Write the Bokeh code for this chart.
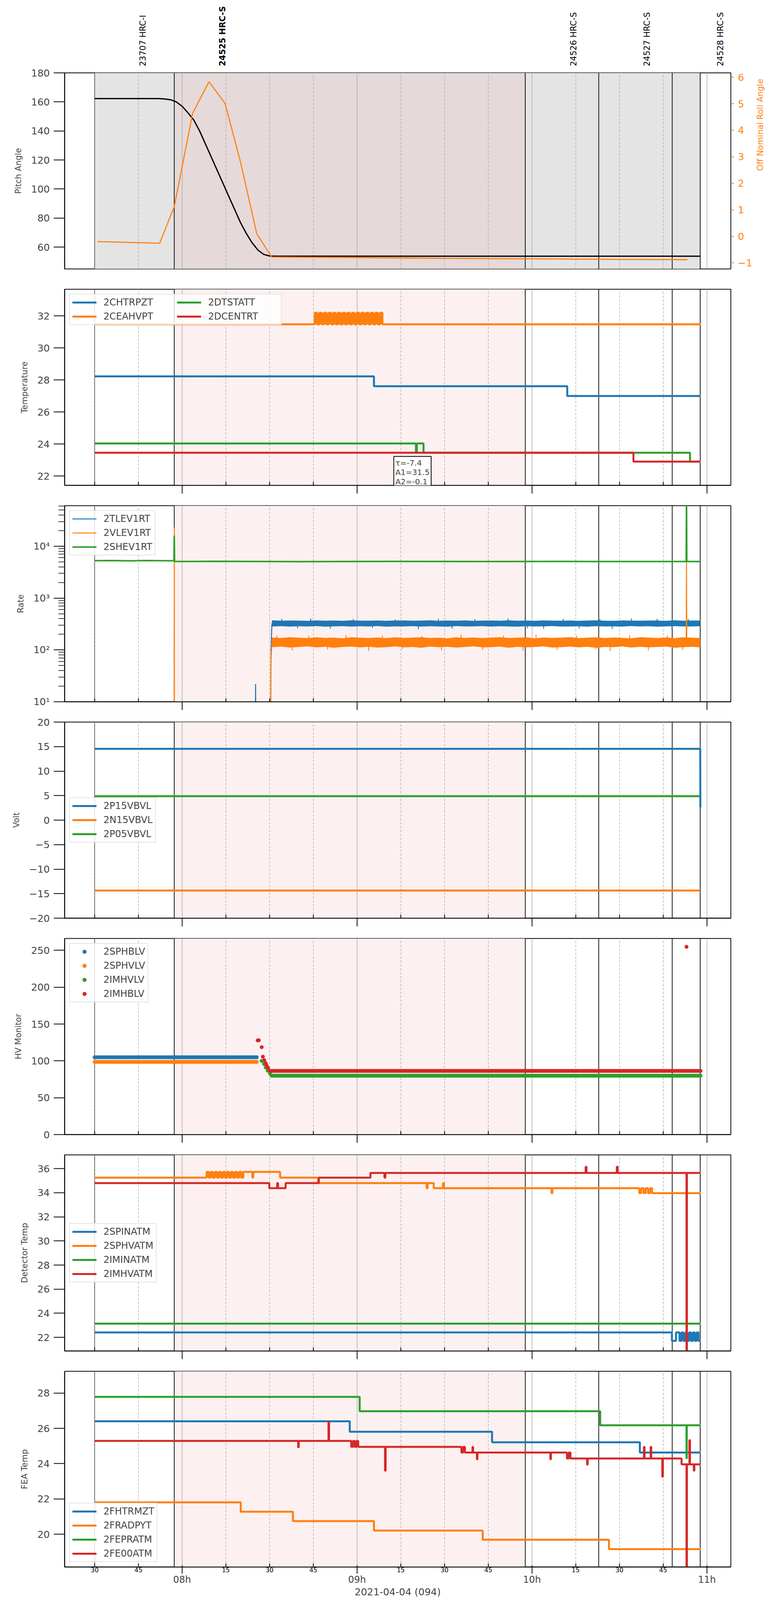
import numpy as np
import pandas as pd
from bokeh.plotting import figure
from bokeh.layouts import column
from bokeh.models import (Range1d, LinearAxis, FixedTicker, CustomJSTickFormatter,
                          BoxAnnotation, Span, Label, Legend, LegendItem)
from bokeh.embed import file_html
from bokeh.resources import INLINE
from bokeh.core.properties import value

# ---------------- data (time = minutes after 2021-04-04 07:00 UTC) ----------------
DAY0 = "2021-04-04 07:00:00"
X_LIMITS = [19.7, 248.2]
HOUR_TICKS = [60, 120, 180, 240]
QUARTER_TICKS = [30, 45, 75, 90, 105, 135, 150, 165, 195, 210, 225]
QUARTER_LABELS = ["30", "45", "15", "30", "45", "15", "30", "45", "15", "30", "45"]
X_TITLE = "2021-04-04 (094)"

obs_ids = ["23707 HRC-I", "24525 HRC-S", "24526 HRC-S", "24527 HRC-S", "24528 HRC-S"]
obs_start = [30.0, 57.3, 177.7, 202.9, 228.1]
obs_stop = [57.3, 177.7, 202.9, 228.1, 237.7]
current_obs = "24525 HRC-S"

# panel 1
pitch_t = [30, 52, 54, 56, 58, 60, 62, 64, 66, 68, 70, 72, 74, 76, 78, 80, 82, 84, 86, 88, 90, 92, 237.7]
pitch_v = [162.3, 162.3, 162.0, 161.5, 160.0, 157.0, 152.5, 147.5, 140.0, 131.0, 122.0, 113.0, 104.0,
           95.0, 86.0, 77.0, 69.5, 63.0, 58.0, 55.0, 53.9, 53.8, 53.8]
roll_t = [31, 42, 52.3, 57.3, 63.6, 69.2, 74.7, 80.1, 85.6, 90.7, 120, 150, 180, 210, 233.3]
roll_v = [-0.20, -0.23, -0.26, 1.12, 4.64, 5.83, 5.02, 2.77, 0.10, -0.78, -0.80, -0.83, -0.85, -0.87, -0.88]

# panel 2 (step data: value holds from each time to the next)
chtrpzt_t = [30, 125.8, 192.1, 237.8]
chtrpzt_v = [28.23, 27.61, 27.0, 27.0]
ceahvpt_t = [30, 105.5, 106.3, 107.1, 107.9, 108.7, 109.5, 110.3, 111.1, 111.9, 112.7, 113.5, 114.3,
             115.1, 115.9, 116.7, 117.5, 118.3, 119.1, 119.9, 120.7, 121.5, 122.3, 123.1, 123.9,
             124.7, 125.5, 126.3, 127.1, 127.9, 128.7, 237.8]
ceahvpt_v = [31.48, 32.2, 31.48, 32.2, 31.48, 32.2, 31.48, 32.2, 31.48, 32.2, 31.48, 32.2, 31.48,
             32.2, 31.48, 32.2, 31.48, 32.2, 31.48, 32.2, 31.48, 32.2, 31.48, 32.2, 31.48,
             32.2, 31.48, 32.2, 31.48, 32.2, 31.48, 31.48]
dtstatt_t = [30, 140.2, 140.5, 142.8, 234.2, 237.8]
dtstatt_v = [24.04, 23.46, 24.04, 23.46, 22.9, 22.9]
dcentrt_t = [30, 214.8, 237.8]
dcentrt_v = [23.46, 22.9, 22.9]
fit_text = "\u03c4=-7.4\nA1=31.5\nA2=-0.1"
fit_time = 132.6

# panel 3 (rates; 0 = no counts)
tlev_t = [30, 85.1, 85.2, 85.3, 90.3, 90.5, 90.8, 237.7]
tlev_v = [0, 0, 22, 0, 0, 100, 322, 322]
vlev_t = [57.25, 57.3, 57.35, 90.3, 90.45, 90.8, 232.9, 233.0, 233.1, 237.7]
vlev_v = [0, 23000, 0, 0, 60, 140, 140, 4900, 140, 140]
shev_t = [30, 36, 42, 48, 54, 57.2, 57.3, 57.4, 70, 100, 130, 160, 190, 220, 232.9, 233.0, 233.1, 237.7]
shev_v = [5260, 5310, 5240, 5290, 5250, 5250, 16000, 5080, 5110, 5060, 5100, 5070, 5090, 5080, 5080,
          100000, 5080, 5080]
band_t = [90.8, 94, 97, 100, 103, 106, 109, 112, 115, 118, 121, 124, 127, 130, 133, 136, 139, 142,
          145, 148, 151, 154, 157, 160, 163, 166, 169, 172, 175, 178, 181, 184, 187, 190, 193, 196,
          199, 202, 205, 208, 211, 214, 217, 220, 223, 226, 229, 232, 235, 237.7]
tlev_hi = [372, 366, 370, 368, 364, 371, 367, 369, 365, 372, 368, 366, 370, 364, 369, 371, 366, 368,
           372, 365, 369, 367, 371, 364, 368, 370, 366, 372, 367, 369, 365, 371, 368, 366, 370, 364,
           369, 372, 367, 365, 371, 368, 366, 370, 369, 364, 372, 367, 369, 368]
tlev_lo = [284, 287, 282, 286, 283, 288, 281, 285, 287, 282, 286, 284, 288, 281, 285, 283, 287, 282,
           286, 284, 281, 288, 283, 285, 287, 282, 286, 284, 281, 287, 283, 285, 288, 282, 284, 286,
           281, 287, 283, 285, 282, 288, 284, 286, 281, 285, 287, 283, 284, 286]
vlev_hi = [174, 170, 176, 172, 169, 175, 171, 173, 168, 176, 172, 170, 174, 169, 175, 171, 173, 176,
           170, 172, 168, 175, 171, 174, 169, 173, 176, 170, 172, 175, 168, 174, 171, 173, 176, 169,
           172, 175, 170, 174, 171, 168, 176, 173, 170, 174, 169, 175, 172, 171]
vlev_lo = [113, 116, 111, 114, 117, 112, 115, 110, 114, 116, 112, 115, 111, 113, 117, 112, 114, 110,
           116, 113, 115, 111, 114, 117, 112, 113, 116, 110, 115, 112, 114, 117, 111, 113, 116, 112,
           115, 110, 114, 113, 117, 111, 115, 112, 114, 116, 110, 113, 115, 112]
TLEV_LEVEL = 322
VLEV_LEVEL = 140
tlev_spike_t = [94.2, 99.6, 104.1, 110.8, 118.7, 125.3, 133.1, 141.0, 147.9, 152.6, 160.4, 171.8,
                178.5, 184.0, 190.7, 196.2, 203.3, 207.5, 214.1, 222.9, 228.0, 233.6]
tlev_spike_v = [398, 262, 405, 258, 396, 266, 388, 252, 401, 260, 394, 405, 264, 257, 399, 262, 392,
                256, 403, 398, 252, 395]
vlev_spike_t = [92.5, 97.8, 103.4, 109.9, 116.2, 124.0, 128.7, 135.5, 142.3, 149.0, 155.7, 163.1,
                170.2, 176.9, 181.4, 188.6, 195.3, 201.8, 206.8, 213.5, 219.9, 226.4, 231.7]
vlev_spike_v = [190, 98, 186, 102, 192, 96, 188, 104, 185, 99, 194, 101, 189, 97, 196, 100, 187, 103,
                95, 191, 98, 188, 100]

# panel 4
p15_t = [30, 237.7, 237.75]
p15_v = [14.55, 14.55, 2.6]
n15_t = [30, 237.7]
n15_v = [-14.36, -14.36]
p05_t = [30, 237.7]
p05_v = [4.88, 4.88]

# panel 5 (scatter): flat segments (start, stop, level) + individual samples
sphblv_seg = [(30, 85.6, 104.9)]
sphvlv_seg = [(30, 85.6, 98.6)]
imhvlv_seg = [(90.67, 237.8, 79.9)]
imhvlv_pt_t = [87.27, 88.1, 88.66, 89.33, 90.13]
imhvlv_pt_v = [100.0, 95.8, 91.1, 86.8, 82.7]
imhblv_seg = [(90.0, 237.8, 86.4)]
imhblv_pt_t = [85.9, 86.3, 87.3, 87.7, 88.2, 88.7, 89.1, 89.5, 233.0]
imhblv_pt_v = [127.8, 128.0, 118.6, 105.7, 100.9, 96.7, 93.0, 90.2, 254.8]
HV_CADENCE = 0.5

# panel 6
spinatm_t = [30, 228.0, 229.4, 230.6, 231.3, 231.9, 232.6, 233.2, 233.9, 234.5, 235.2, 235.8, 236.5,
             237.1, 237.8]
spinatm_v = [22.41, 21.71, 22.41, 21.71, 22.41, 21.71, 22.41, 21.71, 22.41, 21.71, 22.41, 21.71,
             22.41, 21.71, 21.71]
sphvatm_t = [30, 68.4, 69.1, 69.8, 70.5, 71.2, 71.9, 72.6, 73.3, 74.0, 74.7, 75.4, 76.1, 76.8, 77.5,
             78.2, 78.9, 79.6, 80.3, 81.0, 84.1, 84.4, 93.6, 106.6, 143.9, 144.2, 146.3, 149.5,
             149.8, 186.7, 187.0, 216.8, 217.5, 218.3, 219.0, 219.8, 220.5, 221.2, 237.8]
sphvatm_v = [35.25, 35.73, 35.25, 35.73, 35.25, 35.73, 35.25, 35.73, 35.25, 35.73, 35.25, 35.73,
             35.25, 35.73, 35.25, 35.73, 35.25, 35.73, 35.25, 35.73, 35.25, 35.73, 35.25, 34.80,
             34.38, 34.80, 34.38, 34.80, 34.38, 33.96, 34.38, 33.96, 34.38, 33.96, 34.38, 33.96,
             34.38, 33.96, 33.96]
iminatm_t = [30, 237.8]
iminatm_v = [23.14, 23.14]
imhvatm_t = [30, 89.9, 92.6, 92.9, 95.5, 106.9, 124.6, 129.4, 129.7, 198.4, 198.7, 209.1, 209.4,
             233.0, 233.15, 237.8]
imhvatm_v = [34.80, 34.38, 34.80, 34.38, 34.80, 35.25, 35.64, 35.25, 35.64, 36.15, 35.64, 36.15,
             35.64, 0.0, 35.64, 35.64]

# panel 7
fhtrmzt_t = [30, 117.5, 166.3, 217.0, 237.8]
fhtrmzt_v = [26.40, 25.81, 25.21, 24.63, 24.63]
fradpyt_t = [30, 80.1, 98.0, 125.8, 163.1, 206.4, 237.8]
fradpyt_v = [21.81, 21.28, 20.75, 20.21, 19.69, 19.16, 19.16]
fepratm_t = [30, 120.9, 203.4, 233.0, 233.1, 237.8]
fepratm_v = [27.78, 26.97, 26.17, 24.3, 26.17, 26.17]
fe00atm_t = [30, 99.8, 100.0, 110.2, 110.4, 118.0, 118.6, 119.2, 119.8, 120.4, 129.6, 129.8, 155.8,
             156.4, 157.0, 159.6, 159.8, 161.1, 161.3, 186.3, 186.5, 192.0, 192.6, 193.2, 198.9,
             199.1, 218.4, 218.6, 220.7, 220.9, 224.7, 224.9, 231.3, 233.0, 233.15, 234.0, 234.2,
             235.5, 235.7, 237.8]
fe00atm_v = [25.29, 24.93, 25.29, 26.38, 25.29, 24.95, 25.29, 24.95, 25.29, 24.95, 23.60, 24.95, 24.63,
             24.95, 24.63, 24.95, 24.63, 24.25, 24.63, 24.25, 24.63, 24.29, 24.63, 24.29, 23.95,
             24.29, 24.95, 24.29, 24.95, 24.29, 23.26, 24.29, 23.96, 0.0, 23.96, 25.33, 23.96,
             23.60, 23.96, 23.96]

# ---------------- helpers ----------------
BASE = pd.Timestamp(DAY0)
FONT = "DejaVu Sans"
C = ["#1f77b4", "#ff7f0e", "#2ca02c", "#d62728"]


def T(mins):
    return BASE + pd.to_timedelta(np.asarray(mins, dtype=float), unit="m")


def MS(m):
    return (BASE + pd.Timedelta(minutes=float(m))).value / 1e6


def expand(segs, cadence):
    ts, vs = [], []
    for a, b, v in segs:
        n = int(round((b - a) / cadence)) + 1
        ts.extend(np.linspace(a, b, n))
        vs.extend([v] * n)
    return ts, vs


def flicker_block(p, ts, vs, i0, i1, color):
    """Fill the span of a rapidly toggling step series (between its two levels)."""
    seg = vs[i0:i1 + 1]
    p.varea(x=T([ts[i0], ts[i1]]), y1=[min(seg)] * 2, y2=[max(seg)] * 2, fill_color=color)


# layout (the captured page is about 4096 px tall, so vertical sizes are compressed to fit)
W = 2000
FL, FR = 165, 129
FH = 502
HEADER_H = 170
P1_TOP = 16
GAP_T, GAP_B = 26, 26
B7 = 80
TICK_FS, YLAB_FS, LEG_FS, HDR_FS = "25px", "21px", "24px", "21px"
LW = 5

xr = Range1d(MS(X_LIMITS[0]), MS(X_LIMITS[1]))
hour_ms = [MS(m) for m in HOUR_TICKS]
quarter_ms = [MS(m) for m in QUARTER_TICKS]

minus_fmt = CustomJSTickFormatter(code="return tick < 0 ? '\\u2212' + Math.abs(tick) : String(tick);")
hour_fmt = CustomJSTickFormatter(code="""
    const h = new Date(tick).getUTCHours();
    return (h < 10 ? "0" : "") + h + "h";
""")
quarter_fmt = CustomJSTickFormatter(args=dict(qticks=quarter_ms, qlabels=QUARTER_LABELS), code="""
    let best = -1, dmin = 1e12;
    for (let i = 0; i < qticks.length; i++) {
        const d = Math.abs(qticks[i] - tick);
        if (d < dmin) { dmin = d; best = i; }
    }
    return (best >= 0 && dmin < 1000) ? qlabels[best] : "";
""")


def make_fig(height, top, bottom, yr, ylabel, yticks, ytype="linear"):
    p = figure(width=W, height=height, x_range=xr, y_range=yr, x_axis_type="datetime",
               y_axis_type=ytype, output_backend="svg", toolbar_location=None,
               min_border_left=FL, min_border_right=FR, min_border_top=top, min_border_bottom=bottom)
    p.outline_line_color = "black"
    p.outline_line_width = 2
    p.outline_line_alpha = 1
    p.background_fill_color = "white"
    p.ygrid.visible = False
    g = p.xgrid[0]
    g.ticker = FixedTicker(ticks=hour_ms, minor_ticks=quarter_ms)
    g.grid_line_color = "#b0b0b0"
    g.grid_line_width = 1.6
    g.minor_grid_line_color = "#b0b0b0"
    g.minor_grid_line_width = 1.5
    g.minor_grid_line_dash = "6 4"
    ax = p.xaxis[0]
    ax.ticker = FixedTicker(ticks=hour_ms, minor_ticks=quarter_ms)
    ax.axis_line_width = 2
    ax.major_tick_out = 21
    ax.major_tick_in = 0
    ax.major_tick_line_width = 2
    ax.minor_tick_in = 9
    ax.minor_tick_out = 0
    ax.minor_tick_line_width = 2
    ax.major_label_text_color = None
    ax.major_label_text_font_size = "1px"
    ax.major_label_standoff = 0
    ay = p.yaxis[0]
    ay.axis_line_width = 2
    ay.major_tick_out = 28
    ay.major_tick_in = 0
    ay.major_tick_line_width = 2
    ay.major_label_text_font = FONT
    ay.major_label_text_font_size = TICK_FS
    ay.major_label_standoff = 10
    ay.axis_label = ylabel
    ay.axis_label_text_font = FONT
    ay.axis_label_text_font_size = YLAB_FS
    ay.axis_label_text_font_style = "normal"
    ay.axis_label_standoff = 18
    if ytype == "log":
        ay.ticker = FixedTicker(ticks=yticks[0], minor_ticks=yticks[1])
        ay.minor_tick_out = 16
        ay.minor_tick_in = 0
        ay.minor_tick_line_width = 1.5
        ay.formatter = CustomJSTickFormatter(code="""
            const sup = {"0":"\u2070","1":"\u00b9","2":"\u00b2","3":"\u00b3","4":"\u2074",
                         "5":"\u2075","6":"\u2076","7":"\u2077","8":"\u2078","9":"\u2079"};
            const e = Math.round(Math.log10(tick));
            return "10" + String(e).split("").map(c => sup[c]).join("");
        """)
    else:
        ay.ticker = FixedTicker(ticks=yticks)
        ay.formatter = minus_fmt
    return p


def decorate(p, top_panel):
    for oid, a, b in zip(obs_ids, obs_start, obs_stop):
        if top_panel:
            col = "#e5d9d9" if oid == current_obs else "#e4e4e4"
        else:
            if oid != current_obs:
                continue
            col = "#fdf0f0"
        p.add_layout(BoxAnnotation(left=MS(a), right=MS(b), fill_color=col, fill_alpha=1.0,
                                   line_color=None, level="image"))
    edges = obs_start + [obs_stop[-1]]
    for i, m in enumerate(edges):
        p.add_layout(Span(location=MS(m), dimension="height", line_color="black",
                          line_width=1.0 if i == 0 else 1.8, level="underlay"))


def add_legend(p, items, location, ncols=1, label_width=20):
    leg = Legend(items=[LegendItem(label=l, renderers=[r]) for l, r in items], location=location)
    leg.ncols = ncols
    leg.label_text_font = FONT
    leg.label_text_font_size = LEG_FS
    leg.glyph_width = 62
    leg.glyph_height = 24
    leg.label_height = 24
    leg.label_width = label_width
    leg.spacing = 8
    leg.padding = 6
    leg.label_standoff = 18
    leg.margin = 12
    leg.border_line_color = "#cccccc"
    leg.border_line_width = 2
    leg.background_fill_alpha = 0.8
    p.add_layout(leg)


figs = []

# ---- header with observation labels ----
hdr = figure(width=W, height=HEADER_H, x_range=xr, y_range=Range1d(0, HEADER_H),
             x_axis_location=None, y_axis_location=None, output_backend="svg",
             toolbar_location=None, min_border_left=FL, min_border_right=FR,
             min_border_top=0, min_border_bottom=0)
hdr.outline_line_color = None
hdr.xgrid.visible = False
hdr.ygrid.visible = False
lab_x = [MS(a + 15) for a in obs_start]
norm = [i for i, o in enumerate(obs_ids) if o != current_obs]
bold = [i for i, o in enumerate(obs_ids) if o == current_obs]
for idx, style in ((norm, "normal"), (bold, "bold")):
    hdr.text(x=[lab_x[i] for i in idx], y=[1] * len(idx), text=[obs_ids[i] for i in idx],
             angle=np.pi / 2, text_align="left", text_baseline="top",
             text_font=value(FONT), text_font_size=HDR_FS, text_font_style=style,
             text_color="black")
figs.append(hdr)

# ---- panel 1 ----
p1 = make_fig(P1_TOP + FH + GAP_B, P1_TOP, GAP_B, Range1d(45.0, 180.0), "Pitch Angle",
              [60, 80, 100, 120, 140, 160, 180])
p1.xaxis.visible = False
decorate(p1, True)
p1.extra_y_ranges = {"roll": Range1d(-1.23, 6.165)}
ar = LinearAxis(y_range_name="roll", axis_label="Off Nominal Roll Angle")
ar.ticker = FixedTicker(ticks=[-1, 0, 1, 2, 3, 4, 5, 6])
ar.formatter = minus_fmt
ar.axis_line_color = None
ar.major_tick_out = 8
ar.major_tick_in = 0
ar.major_tick_line_width = 2
ar.major_tick_line_color = C[1]
ar.minor_tick_line_color = None
ar.major_label_text_color = C[1]
ar.major_label_text_font = FONT
ar.major_label_text_font_size = TICK_FS
ar.major_label_standoff = 10
ar.axis_label_text_color = C[1]
ar.axis_label_text_font = FONT
ar.axis_label_text_font_size = YLAB_FS
ar.axis_label_text_font_style = "normal"
ar.axis_label_standoff = 18
ar.axis_label_orientation = np.pi / 2
p1.add_layout(ar, "right")
p1.line(T(pitch_t), pitch_v, line_color="black", line_width=3.2)
p1.line(T(roll_t), roll_v, line_color=C[1], line_width=2.8, y_range_name="roll")
figs.append(p1)

# ---- panel 2 ----
p2 = make_fig(GAP_T + FH + GAP_B, GAP_T, GAP_B, Range1d(21.42, 33.67), "Temperature",
              [22, 24, 26, 28, 30, 32])
decorate(p2, False)
flicker_block(p2, ceahvpt_t, ceahvpt_v, 1, len(ceahvpt_t) - 2, C[1])
r = [p2.step(T(chtrpzt_t), chtrpzt_v, mode="after", line_color=C[0], line_width=LW),
     p2.step(T(ceahvpt_t), ceahvpt_v, mode="after", line_color=C[1], line_width=LW),
     p2.step(T(dtstatt_t), dtstatt_v, mode="after", line_color=C[2], line_width=LW),
     p2.step(T(dcentrt_t), dcentrt_v, mode="after", line_color=C[3], line_width=LW)]
add_legend(p2, list(zip(["2CHTRPZT", "2CEAHVPT", "2DTSTATT", "2DCENTRT"], r)), "top_left",
           ncols=2, label_width=180)
p2.add_layout(Label(x=MS(fit_time), y=74, x_units="data", y_units="screen", text=fit_text,
                    text_align="left", text_baseline="top", text_font=FONT, text_font_size="20px",
                    text_line_height=1.0, border_line_color="black", border_line_width=2,
                    background_fill_color="white", background_fill_alpha=1.0, padding=4))
figs.append(p2)

# ---- panel 3 ----
dec_minor = [m * d for d in (10, 100, 1000, 10000) for m in range(2, 10)]
p3 = make_fig(GAP_T + FH + GAP_B, GAP_T, GAP_B, Range1d(10, 60700), "Rate",
              ([10, 100, 1000, 10000], dec_minor), ytype="log")
decorate(p3, False)
floor = lambda v: np.where(np.asarray(v, dtype=float) <= 0, 1.0, np.asarray(v, dtype=float))
p3.varea(x=T(band_t), y1=tlev_lo, y2=tlev_hi, fill_color=C[0])
p3.segment(x0=T(tlev_spike_t), y0=[TLEV_LEVEL] * len(tlev_spike_t), x1=T(tlev_spike_t),
           y1=tlev_spike_v, line_color=C[0], line_width=2.2)
p3.varea(x=T(band_t), y1=vlev_lo, y2=vlev_hi, fill_color=C[1])
p3.segment(x0=T(vlev_spike_t), y0=[VLEV_LEVEL] * len(vlev_spike_t), x1=T(vlev_spike_t),
           y1=vlev_spike_v, line_color=C[1], line_width=2.2)
r = [p3.line(T(tlev_t), floor(tlev_v), line_color=C[0], line_width=2.6),
     p3.line(T(vlev_t), floor(vlev_v), line_color=C[1], line_width=2.6),
     p3.line(T(shev_t), floor(shev_v), line_color=C[2], line_width=4)]
add_legend(p3, list(zip(["2TLEV1RT", "2VLEV1RT", "2SHEV1RT"], r)), "top_left")
figs.append(p3)

# ---- panel 4 ----
p4 = make_fig(GAP_T + FH + GAP_B, GAP_T, GAP_B, Range1d(-20, 20), "Volt",
              [-20, -15, -10, -5, 0, 5, 10, 15, 20])
decorate(p4, False)
r = [p4.line(T(p15_t), p15_v, line_color=C[0], line_width=LW),
     p4.line(T(n15_t), n15_v, line_color=C[1], line_width=LW),
     p4.line(T(p05_t), p05_v, line_color=C[2], line_width=LW)]
add_legend(p4, list(zip(["2P15VBVL", "2N15VBVL", "2P05VBVL"], r)), "left")
figs.append(p4)

# ---- panel 5 ----
p5 = make_fig(GAP_T + FH + GAP_B, GAP_T, GAP_B, Range1d(0, 266.1), "HV Monitor",
              [0, 50, 100, 150, 200, 250])
decorate(p5, False)
t_a, v_a = expand(sphblv_seg, HV_CADENCE)
t_b, v_b = expand(sphvlv_seg, HV_CADENCE)
t_c, v_c = expand(imhvlv_seg, HV_CADENCE)
t_d, v_d = expand(imhblv_seg, HV_CADENCE)
r = [p5.scatter(T(t_a), v_a, size=9, color=C[0]),
     p5.scatter(T(t_b), v_b, size=9, color=C[1]),
     p5.scatter(T(imhvlv_pt_t + t_c), imhvlv_pt_v + v_c, size=9, color=C[2]),
     p5.scatter(T(imhblv_pt_t + t_d), imhblv_pt_v + v_d, size=9, color=C[3])]
add_legend(p5, list(zip(["2SPHBLV", "2SPHVLV", "2IMHVLV", "2IMHBLV"], r)), "top_left")
figs.append(p5)

# ---- panel 6 ----
p6 = make_fig(GAP_T + FH + GAP_B, GAP_T, GAP_B, Range1d(20.87, 37.14), "Detector Temp",
              [22, 24, 26, 28, 30, 32, 34, 36])
decorate(p6, False)
flicker_block(p6, spinatm_t, spinatm_v, 3, len(spinatm_t) - 2, C[0])
flicker_block(p6, sphvatm_t, sphvatm_v, 1, 19, C[1])
r = [p6.step(T(spinatm_t), spinatm_v, mode="after", line_color=C[0], line_width=LW),
     p6.step(T(sphvatm_t), sphvatm_v, mode="after", line_color=C[1], line_width=LW),
     p6.step(T(iminatm_t), iminatm_v, mode="after", line_color=C[2], line_width=LW),
     p6.step(T(imhvatm_t), imhvatm_v, mode="after", line_color=C[3], line_width=LW)]
add_legend(p6, list(zip(["2SPINATM", "2SPHVATM", "2IMINATM", "2IMHVATM"], r)), "left")
figs.append(p6)

# ---- panel 7 ----
p7 = make_fig(GAP_T + FH + B7, GAP_T, B7, Range1d(18.15, 29.23), "FEA Temp", [20, 22, 24, 26, 28])
decorate(p7, False)
r = [p7.step(T(fhtrmzt_t), fhtrmzt_v, mode="after", line_color=C[0], line_width=LW),
     p7.step(T(fradpyt_t), fradpyt_v, mode="after", line_color=C[1], line_width=LW),
     p7.step(T(fepratm_t), fepratm_v, mode="after", line_color=C[2], line_width=LW),
     p7.step(T(fe00atm_t), fe00atm_v, mode="after", line_color=C[3], line_width=LW)]
add_legend(p7, list(zip(["2FHTRMZT", "2FRADPYT", "2FEPRATM", "2FE00ATM"], r)), "bottom_left")
# first bottom axis: quarter-hour labels with short inward ticks
axa = p7.xaxis[0]
axa.ticker = FixedTicker(ticks=quarter_ms, minor_ticks=[])
axa.formatter = quarter_fmt
axa.major_tick_in = 9
axa.major_tick_out = 0
axa.major_tick_line_width = 2
axa.minor_tick_in = 0
axa.minor_tick_out = 0
axa.minor_tick_line_color = None
axa.major_label_text_color = "black"
axa.major_label_text_font = FONT
axa.major_label_text_font_size = "16px"
axa.major_label_standoff = 1
# second bottom axis: long hour ticks reaching up to the frame, hour labels and the date title
axb = LinearAxis(axis_label=X_TITLE)
axb.ticker = FixedTicker(ticks=hour_ms, minor_ticks=[])
axb.formatter = hour_fmt
axb.axis_line_color = None
axb.minor_tick_line_color = None
axb.major_tick_line_color = "black"
axb.major_tick_line_width = 2
axb.major_tick_in = 20
axb.major_tick_out = 1
axb.major_label_text_font = FONT
axb.major_label_text_font_size = "24px"
axb.major_label_standoff = 1
axb.axis_label_text_font = FONT
axb.axis_label_text_font_size = "25px"
axb.axis_label_text_font_style = "normal"
axb.axis_label_standoff = 0
p7.add_layout(axb, "below")
figs.append(p7)

layout = column(*figs, spacing=0)
open("out.html", "w").write(file_html(layout, INLINE))
